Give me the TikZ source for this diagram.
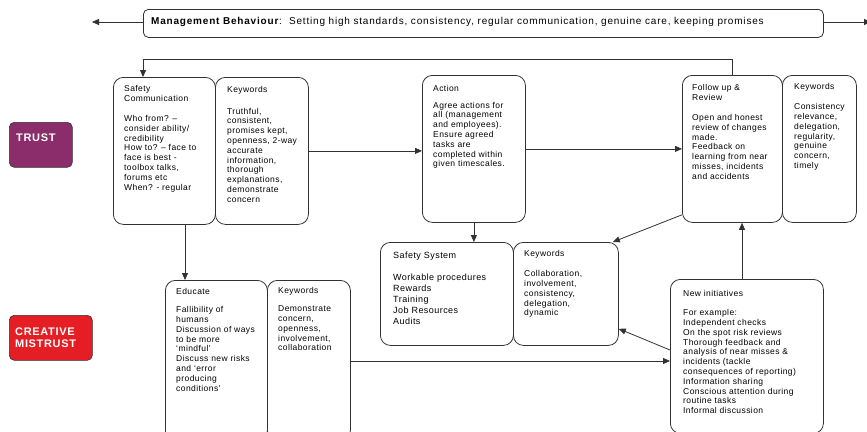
\documentclass[tikz,border=0pt]{standalone}
\usepackage{fontspec}
\setmainfont{Liberation Sans}
\newfontfamily\spacedfont[LetterSpace=5]{Liberation Sans}
\newfontfamily\widefont[LetterSpace=8]{Liberation Sans}
\newfontfamily\labfont[LetterSpace=6]{Liberation Sans}
\usetikzlibrary{arrows.meta,calc}
\definecolor{trustc}{RGB}{139,45,107}
\definecolor{mistc}{RGB}{228,30,36}
\definecolor{linec}{RGB}{50,50,50}
\begin{document}
\begin{tikzpicture}[x=1pt,y=-1pt,
 box/.style={draw=linec, line width=0.8pt, rounded corners=10pt, anchor=north west, inner sep=0pt},
 txt/.style={anchor=north west, align=left, inner sep=0pt, font=\spacedfont\fontsize{8.5}{9.8}\selectfont},
 arr/.style={draw=linec, line width=0.8pt, -{Triangle[length=7pt,width=6pt]}},
 lab/.style={draw=linec, line width=0.6pt, rounded corners=5pt, anchor=north west, inner sep=0pt},
 labtxt/.style={anchor=north west, align=left, inner sep=0pt, text=white, font=\labfont\bfseries\fontsize{11}{11.5}\selectfont}
]
\useasboundingbox (0,0) rectangle (867,431);
\clip (0,0) rectangle (867,431);

% management behaviour
\node[box, rounded corners=5pt, minimum width=680pt, minimum height=28pt] (mgmt) at (143,9) {};
\node[anchor=west, inner sep=0pt, font=\widefont\fontsize{10}{11}\selectfont] (mgmttxt) at ($(mgmt.west)+(8,-1)$)
  {\textbf{Management Behaviour}:\ \ Setting high standards, consistency, regular communication, genuine care, keeping promises};
\coordinate (mL) at (92,22);
\coordinate (mR) at (871,22);
\draw[arr] (mgmt.west |- mL) -- (mL);
\draw[arr] (mgmt.east |- mR) -- (mR);

% side labels
\node[lab, fill=trustc, minimum width=63pt, minimum height=45pt] (trust) at (9,122) {};
\node[labtxt] (trusttxt) at (16,134) {TRUST};
\node[lab, fill=mistc, minimum width=83pt, minimum height=45pt] (mist) at (9,315) {};
\node[labtxt] (misttxt) at (15,328) {CREATIVE\\MISTRUST};

% safety communication
\node[box, minimum width=102pt, minimum height=147pt] (sc) at (113,77) {};
\node[box, minimum width=93pt, minimum height=147pt] (sck) at (215,77) {};
\node[txt] (sctxt) at (124,85.5) {Safety\\Communication\\[10pt]Who from? –\\consider ability/\\credibility\\How to? – face to\\face is best -\\toolbox talks,\\forums etc\\When? - regular};
\node[txt] (scktxt) at (227,86) {Keywords\\[12pt]Truthful,\\consistent,\\promises kept,\\openness, 2-way\\accurate\\information,\\thorough\\explanations,\\demonstrate\\concern};

% action
\node[box, minimum width=103pt, minimum height=147pt] (act) at (422,75) {};
\node[txt] (acttxt) at (433,85) {Action\\[7pt]Agree actions for\\all (management\\and employees).\\Ensure agreed\\tasks are\\completed within\\given timescales.};

% follow up
\node[box, minimum width=100pt, minimum height=147pt] (fu) at (682,75) {};
\node[box, minimum width=74pt, minimum height=147pt] (fuk) at (782,75) {};
\node[txt] (futxt) at (692,84.5) {Follow up \&\\Review\\[10pt]Open and honest\\review of changes\\made.\\Feedback on\\learning from near\\misses, incidents\\and accidents};
\node[txt] (fuktxt) at (794,83.5) {Keywords\\[10pt]Consistency\\relevance,\\delegation,\\regularity,\\genuine\\concern,\\timely};

% safety system
\node[box, minimum width=133pt, minimum height=103pt] (ss) at (380,242) {};
\node[box, minimum width=105pt, minimum height=103pt] (ssk) at (513,242) {};
\node[txt, font=\spacedfont\fontsize{9}{11}\selectfont] (sstxt) at (393,252) {Safety System\\[11pt]Workable procedures\\Rewards\\Training\\Job Resources\\Audits};
\node[txt] (ssktxt) at (524,250.5) {Keywords\\[10pt]Collaboration,\\involvement,\\consistency,\\delegation,\\dynamic};

% educate
\node[box, minimum width=102pt, minimum height=160pt] (ed) at (165,280) {};
\node[box, minimum width=83pt, minimum height=160pt] (edk) at (267,280) {};
\node[txt] (edtxt) at (176,288.5) {Educate\\[8pt]Fallibility of\\humans\\Discussion of ways\\to be more\\‘mindful’\\Discuss new risks\\and ‘error\\producing\\conditions’};
\node[txt] (edktxt) at (278,287.5) {Keywords\\[8pt]Demonstrate\\concern,\\openness,\\involvement,\\collaboration};

% new initiatives
\node[box, minimum width=153pt, minimum height=154pt] (ni) at (670,279) {};
\node[txt] (nitxt) at (683,290.5) {New initiatives\\[9pt]For example:\\Independent checks\\On the spot risk reviews\\Thorough feedback and\\analysis of near misses \&\\incidents (tackle\\consequences of reporting)\\Information sharing\\Conscious attention during\\routine tasks\\Informal discussion};

% connectors
\coordinate (tl) at (143,59);
\draw[arr] (fu.north) -- (fu.north |- tl) -- (tl) -- (tl |- sc.north);
\draw[arr] (sck.east) -- (sck.east -| act.west);
\draw[arr] (act.east) -- (act.east -| fu.west);
\draw[arr] (act.south) -- (act.south |- ss.north);
\draw[arr] ([xshift=72pt]sc.south west) -- ([xshift=20pt]ed.north west);
\draw[arr] ([yshift=8pt]fu.south west) -- ([xshift=-6pt]ssk.north east);
\draw[arr] ([xshift=72pt]ni.north west) -- ([xshift=60pt]fu.south west);
\draw[arr] ([yshift=-71pt]ni.north west) -- ([yshift=17pt]ssk.south east);
\draw[arr] ([yshift=-81pt]edk.north east) -- ([yshift=-81pt]edk.north east -| ni.west);
\end{tikzpicture}
\end{document}
